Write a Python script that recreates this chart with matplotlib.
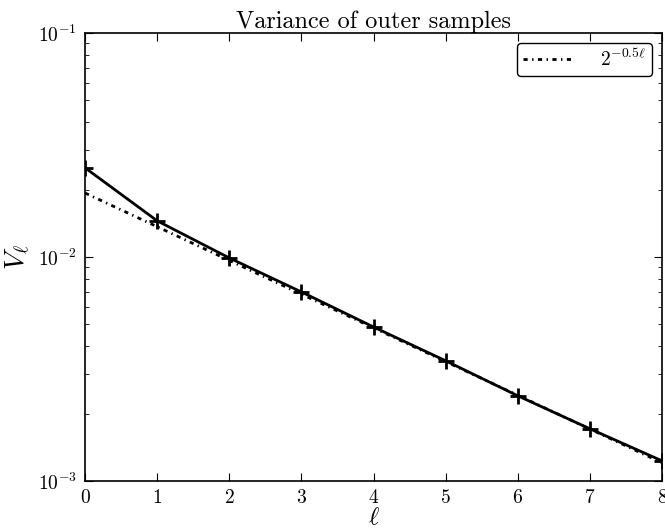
import matplotlib
matplotlib.use("Agg")
import matplotlib.pyplot as plt
import numpy as np

levels = [0, 1, 2, 3, 4, 5, 6, 7, 8]
variance = [0.0250, 0.0145, 0.0099, 0.00698, 0.00487, 0.00344, 0.00240, 0.00171, 0.00123]
ref_c = 0.0193
ref_rate = -0.5

plt.rcParams['font.family'] = 'serif'
plt.rcParams['font.serif'] = ['cmr10', 'DejaVu Serif']
plt.rcParams['mathtext.fontset'] = 'cm'
plt.rcParams['axes.formatter.use_mathtext'] = True
plt.rcParams['axes.unicode_minus'] = False

fig = plt.figure(figsize=(6.65, 5.30), dpi=100)
ax = fig.add_axes([0.128, 0.0925, 0.8675, 0.8452])

ax.semilogy(levels, variance, color='black', lw=2, marker='+', ms=11, mew=2)
lv = np.array(levels, dtype=float)
ax.semilogy(lv, ref_c * 2.0 ** (ref_rate * lv), color='black', lw=2,
            ls=(0, (1.5, 1.6, 0.5, 1.6)), label=r'$2^{-0.5\ell}$')

ax.set_xlim(0, 8)
ax.set_ylim(1e-3, 1e-1)
ax.set_xticks(levels)
ax.tick_params(which='both', direction='in', top=True, right=True, labelsize=14, pad=6)
ax.tick_params(which='major', length=6)
ax.tick_params(which='minor', length=3)
for s in ax.spines.values():
    s.set_linewidth(1.2)

ax.set_xlabel(r'$\ell$', fontsize=18, labelpad=0)
ax.set_ylabel(r'$V_\ell$', fontsize=20, labelpad=4)
ax.set_title('Variance of outer samples', fontsize=17.5, pad=2)
leg = ax.legend(loc='upper right', fontsize=14, fancybox=True, framealpha=1,
                edgecolor='black', handlelength=2.6, borderpad=0.3,
                handletextpad=1.4, borderaxespad=0.5)
leg.get_frame().set_linewidth(1.0)

fig.savefig('out.png', dpi=100)
